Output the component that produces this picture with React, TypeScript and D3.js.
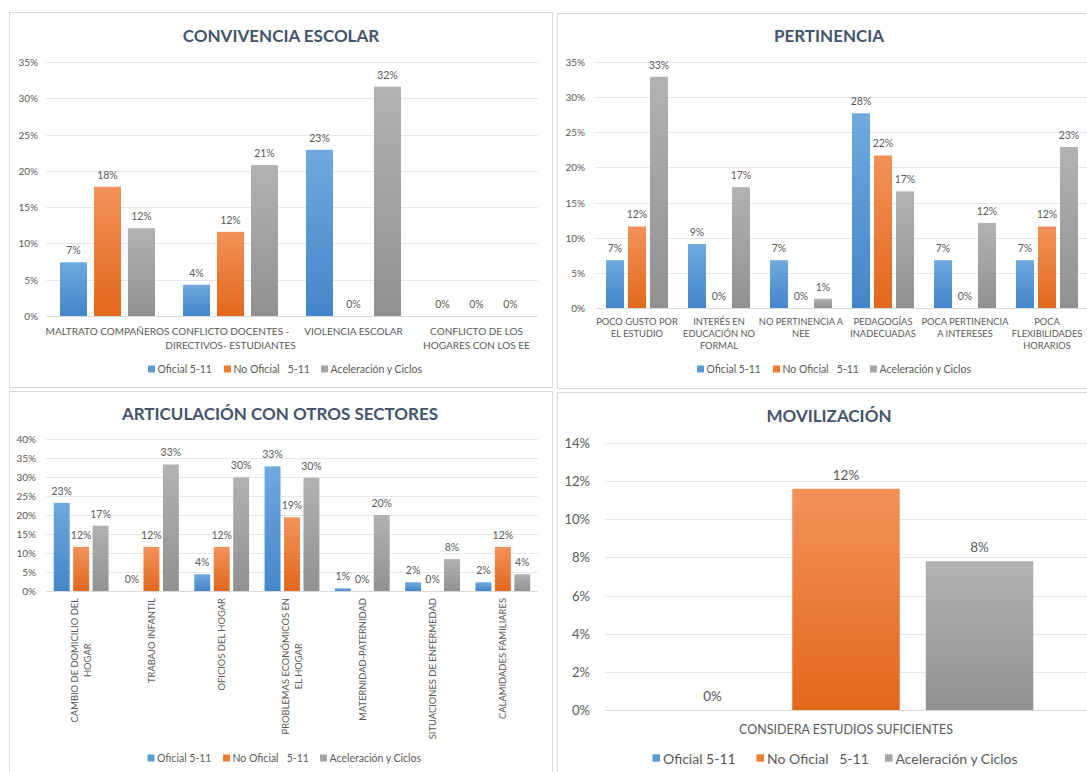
import React, { useEffect, useRef } from "react";
import * as d3 from "d3";

// ---------- DATA ----------
const SERIES = ["Oficial 5-11", "No Oficial   5-11", "Aceleración y Ciclos"];

const CONV_CATEGORIES = [
  "MALTRATO COMPAÑEROS",
  "CONFLICTO DOCENTES -\nDIRECTIVOS- ESTUDIANTES",
  "VIOLENCIA ESCOLAR",
  "CONFLICTO DE LOS\nHOGARES CON LOS EE",
];
const CONV_OFICIAL = [0.074, 0.043, 0.229, 0];
const CONV_NO_OFICIAL = [0.178, 0.116, 0, 0];
const CONV_ACELERACION = [0.121, 0.208, 0.316, 0];

const PERT_CATEGORIES = [
  "POCO GUSTO POR\nEL ESTUDIO",
  "INTERÉS EN\nEDUCACIÓN NO\nFORMAL",
  "NO PERTINENCIA A\nNEE",
  "PEDAGOGÍAS\nINADECUADAS",
  "POCA PERTINENCIA\nA INTERESES",
  "POCA\nFLEXIBILIDADES\nHORARIOS",
];
const PERT_OFICIAL = [0.068, 0.091, 0.068, 0.277, 0.068, 0.068];
const PERT_NO_OFICIAL = [0.116, 0, 0, 0.217, 0, 0.116];
const PERT_ACELERACION = [0.329, 0.172, 0.013, 0.166, 0.121, 0.229];

const ART_CATEGORIES = [
  "CAMBIO DE DOMICILIO DEL\nHOGAR",
  "TRABAJO INFANTIL",
  "OFICIOS DEL HOGAR",
  "PROBLEMAS ECONÓMICOS EN\nEL HOGAR",
  "MATERNIDAD-PATERNIDAD",
  "SITUACIONES DE ENFERMEDAD",
  "CALAMIDADES FAMILIARES",
];
const ART_OFICIAL = [0.232, 0, 0.044, 0.328, 0.007, 0.023, 0.023];
const ART_NO_OFICIAL = [0.116, 0.116, 0.116, 0.194, 0, 0, 0.116];
const ART_ACELERACION = [0.172, 0.333, 0.299, 0.298, 0.2, 0.084, 0.044];

const MOV_CATEGORIES = ["CONSIDERA ESTUDIOS SUFICIENTES"];
const MOV_OFICIAL = [0];
const MOV_NO_OFICIAL = [0.116];
const MOV_ACELERACION = [0.078];

// ---------- STYLE / LAYOUT ----------
const FONT = "Lato, 'Open Sans', 'DejaVu Sans', sans-serif";
const TEXT_COLOR = "#595959";
const TITLE_COLOR = "#44546A";
const GRADS = [
  ["#6FA9DF", "#4386C8"],
  ["#F2925A", "#E2681C"],
  ["#B2B2B2", "#919191"],
];
const LEGEND_COLORS = ["#5B9BD5", "#ED7D31", "#A5A5A5"];

const PANELS = [
  {
    title: "CONVIVENCIA ESCOLAR",
    categories: CONV_CATEGORIES,
    values: [CONV_OFICIAL, CONV_NO_OFICIAL, CONV_ACELERACION],
    box: [9, 12, 543, 375],
    titleX: 281, titleY: 35, titleSize: 17,
    plot: { left: 46, right: 538, top: 62, bottom: 316 },
    yMax: 0.35, yStep: 0.05, tickX: 38, tickSize: 10,
    labelSize: 10.5, labelOff: 8,
    catSize: 10, catMode: "h", catY: 331, catLineH: 13.5,
    p: 0.228, q: 0.206,
    legend: { y: 369, xs: [148, 224, 321], sq: 7, size: 10.5, gap: 2.5 },
  },
  {
    title: "PERTINENCIA",
    categories: PERT_CATEGORIES,
    values: [PERT_OFICIAL, PERT_NO_OFICIAL, PERT_ACELERACION],
    box: [557, 13, 545, 375],
    titleX: 829, titleY: 35, titleSize: 17,
    plot: { left: 596, right: 1088, top: 62, bottom: 308 },
    yMax: 0.35, yStep: 0.05, tickX: 585, tickSize: 10,
    labelSize: 10.5, labelOff: 8,
    catSize: 9.3, catMode: "h", catY: 321, catLineH: 12,
    p: 0.244, q: 0.18,
    legend: { y: 369, xs: [697, 773, 870], sq: 7, size: 10.5, gap: 2.5 },
  },
  {
    title: "ARTICULACIÓN CON OTROS SECTORES",
    categories: ART_CATEGORIES,
    values: [ART_OFICIAL, ART_NO_OFICIAL, ART_ACELERACION],
    box: [9, 391, 543, 395],
    titleX: 280, titleY: 413, titleSize: 17,
    plot: { left: 46, right: 538, top: 439, bottom: 591 },
    yMax: 0.4, yStep: 0.05, tickX: 36, tickSize: 10,
    labelSize: 10.5, labelOff: 8,
    catSize: 9.4, catMode: "v", catY: 598, catLineH: 12.5,
    p: 0.22, q: 0.18,
    legend: { y: 758, xs: [147.5, 223, 320], sq: 7, size: 10.5, gap: 2.5 },
  },
  {
    title: "MOVILIZACIÓN",
    categories: MOV_CATEGORIES,
    values: [MOV_OFICIAL, MOV_NO_OFICIAL, MOV_ACELERACION],
    box: [557, 392, 545, 395],
    titleX: 829, titleY: 415, titleSize: 17,
    plot: { left: 605, right: 1087, top: 443, bottom: 710 },
    yMax: 0.14, yStep: 0.02, tickX: 590, tickSize: 13,
    labelSize: 13.5, labelOff: 9,
    catSize: 12.5, catMode: "h", catY: 729, catLineH: 14,
    p: 0.223, q: 0.195,
    legend: { y: 758, xs: [652.5, 756.5, 885], sq: 7.5, size: 14, gap: 3 },
  },
];

export default function App() {
  const ref = useRef<SVGSVGElement | null>(null);

  useEffect(() => {
    const svg = d3.select(ref.current);
    svg.selectAll("*").remove();
    svg.append("rect").attr("width", 1087).attr("height", 772).attr("fill", "#fff");

    const defs = svg.append("defs");
    GRADS.forEach((g, i) => {
      const lg = defs
        .append("linearGradient")
        .attr("id", "grad" + i)
        .attr("x1", 0).attr("y1", 0).attr("x2", 0).attr("y2", 1);
      lg.append("stop").attr("offset", "0%").attr("stop-color", g[0]);
      lg.append("stop").attr("offset", "100%").attr("stop-color", g[1]);
    });

    const pct = d3.format(".0%");

    PANELS.forEach((P) => {
      const g = svg.append("g").style("font-family", FONT);
      const [bx, by, bw, bh] = P.box;
      g.append("rect")
        .attr("x", bx + 0.5).attr("y", by + 0.5)
        .attr("width", bw).attr("height", bh)
        .attr("fill", "#fff").attr("stroke", "#D9D9D9");

      g.append("text")
        .attr("x", P.titleX).attr("y", P.titleY)
        .attr("text-anchor", "middle").attr("dominant-baseline", "central")
        .attr("font-size", P.titleSize).attr("font-weight", 700)
        .attr("fill", TITLE_COLOR)
        .text(P.title);

      const { left, right, top, bottom } = P.plot;
      const y = d3.scaleLinear().domain([0, P.yMax]).range([bottom, top]);
      const nTicks = Math.round(P.yMax / P.yStep);
      const ticks = d3.range(nTicks + 1).map((i) => i * P.yStep);

      ticks.forEach((t, i) => {
        const yy = Math.round(y(t)) + 0.5;
        g.append("line")
          .attr("x1", left).attr("x2", right)
          .attr("y1", yy).attr("y2", yy)
          .attr("stroke", i === 0 ? "#D9D9D9" : "#E4E7EC")
          .attr("stroke-width", 1);
        g.append("text")
          .attr("x", P.tickX).attr("y", y(t))
          .attr("text-anchor", "end").attr("dominant-baseline", "central")
          .attr("font-size", P.tickSize).attr("fill", TEXT_COLOR)
          .text(pct(t));
      });

      const idx = P.categories.map((_, i) => i);
      const x0 = d3.scaleBand<number>().domain(idx).range([left, right])
        .paddingInner(P.p).paddingOuter(P.p / 2);
      const x1 = d3.scaleBand<number>().domain([0, 1, 2]).range([0, x0.bandwidth()])
        .paddingInner(P.q);

      P.values.forEach((vals, s) => {
        vals.forEach((v, i) => {
          const bxp = (x0(i) as number) + (x1(s) as number);
          const w = x1.bandwidth();
          if (v > 0) {
            g.append("rect")
              .attr("x", bxp).attr("y", y(v))
              .attr("width", w).attr("height", bottom - y(v))
              .attr("fill", `url(#grad${s})`);
          }
          g.append("text")
            .attr("x", bxp + w / 2).attr("y", y(v) - P.labelOff)
            .attr("text-anchor", "middle")
            .attr("font-size", P.labelSize).attr("fill", TEXT_COLOR)
            .text(pct(v));
        });
      });

      // category labels
      P.categories.forEach((c, i) => {
        const lines = c.split("\n");
        const cx = (x0(i) as number) + x0.bandwidth() / 2;
        if (P.catMode === "h") {
          lines.forEach((ln, k) => {
            g.append("text")
              .attr("x", cx).attr("y", P.catY + k * P.catLineH)
              .attr("text-anchor", "middle").attr("dominant-baseline", "central")
              .attr("font-size", P.catSize).attr("fill", TEXT_COLOR)
              .text(ln);
          });
        } else {
          const cg = g.append("g").attr("transform", `translate(${cx},${P.catY}) rotate(-90)`);
          const texts = lines.map((ln, k) =>
            cg.append("text")
              .attr("y", (k - (lines.length - 1) / 2) * P.catLineH)
              .attr("text-anchor", "middle").attr("dominant-baseline", "central")
              .attr("font-size", P.catSize).attr("fill", TEXT_COLOR)
              .text(ln)
          );
          const maxLen = d3.max(texts, (t) => (t.node() as SVGTextElement).getComputedTextLength()) || 0;
          texts.forEach((t) => t.attr("x", -maxLen / 2));
        }
      });

      // legend
      const L = P.legend;
      SERIES.forEach((name, s) => {
        g.append("rect")
          .attr("x", L.xs[s]).attr("y", L.y - L.sq / 2)
          .attr("width", L.sq).attr("height", L.sq)
          .attr("fill", LEGEND_COLORS[s]);
        g.append("text")
          .attr("x", L.xs[s] + L.sq + L.gap).attr("y", L.y)
          .attr("dominant-baseline", "central")
          .attr("font-size", L.size).attr("fill", TEXT_COLOR)
          .style("white-space", "pre")
          .text(name);
      });
    });
  }, []);

  return (
    <svg
      ref={ref}
      width={1087}
      height={772}
      style={{ position: "absolute", left: 0, top: 0, display: "block" }}
    />
  );
}
